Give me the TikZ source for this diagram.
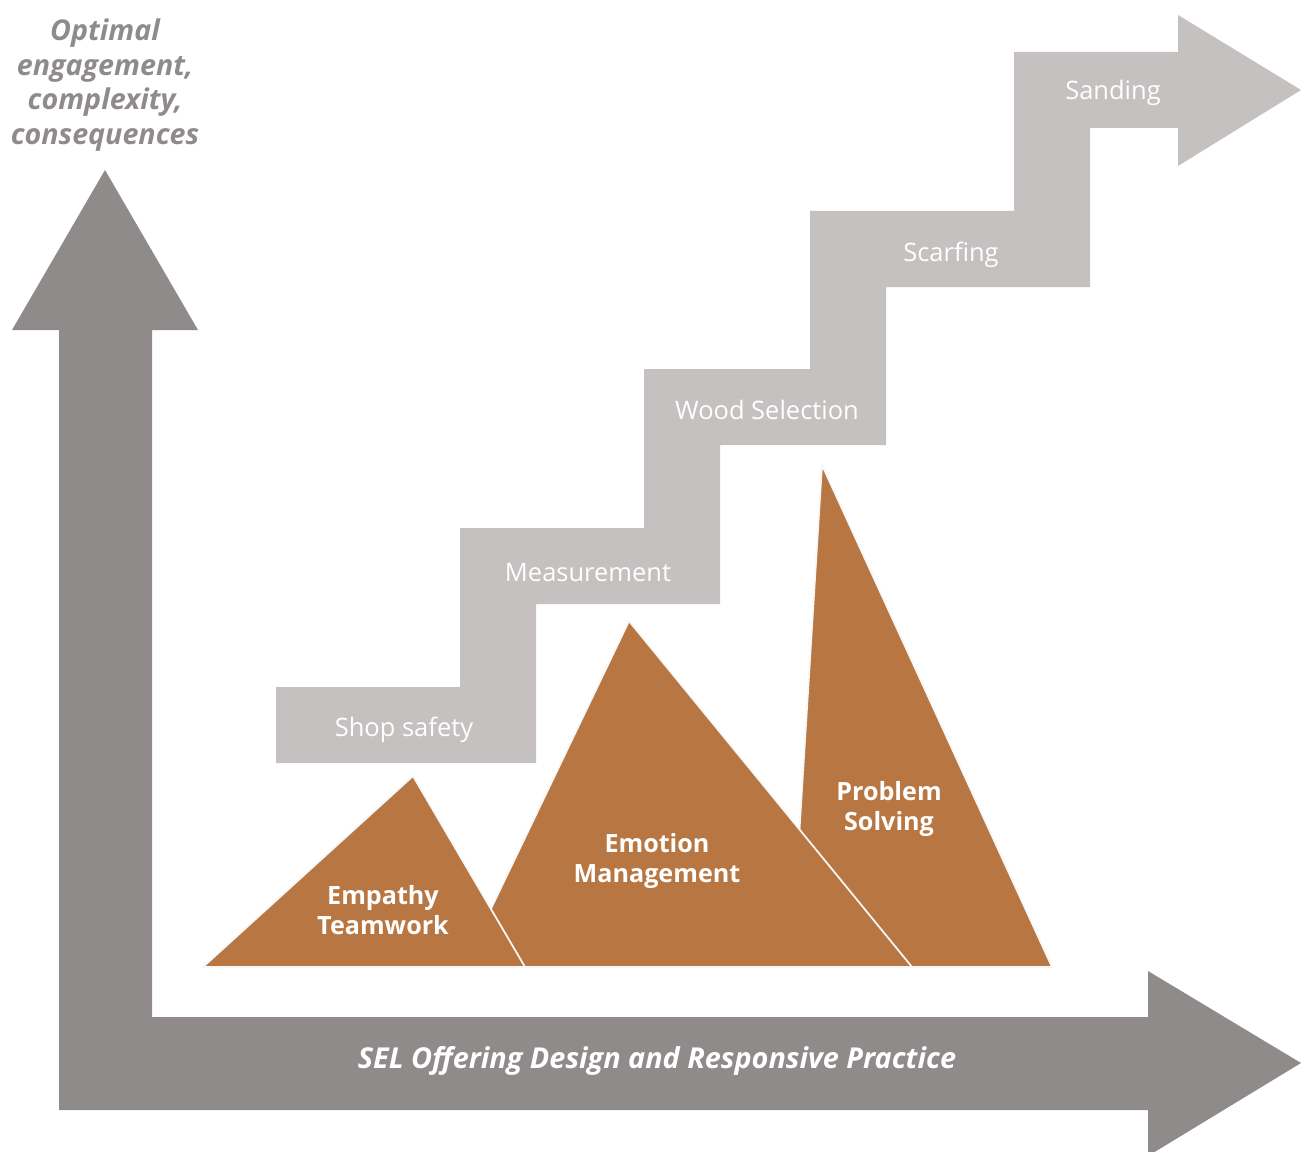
\documentclass[tikz,border=0pt]{standalone}
\usepackage{fontspec}
\setmainfont{Open Sans}
\usetikzlibrary{positioning}
\definecolor{axisgray}{HTML}{8E8B8A}
\definecolor{stairgray}{HTML}{C4C1C0}
\definecolor{peakbrown}{HTML}{B87742}

\begin{document}
\begin{tikzpicture}[x = 0.02cm, y = -0.02cm,
    stairlabel/.style = { text = white, font = \fontsize{14.5}{17}\selectfont },
    peak/.style = { fill = peakbrown, draw = white!94!gray, line width = 1pt, line join = round },
    peaklabel/.style = { text = white, align = center, font = \bfseries\fontsize{14.3}{17}\selectfont }]
    \useasboundingbox (0,0) rectangle (1301,1152);

    % axes
    \fill[axisgray] (105,170) -- (198,330) -- (152,330) -- (152,1017) -- (1148,1017) -- (1148,971)
      -- (1301,1063) -- (1148,1156) -- (1148,1110) -- (59,1110) -- (59,330) -- (12,330) -- cycle;

    % stairs
    \fill[stairgray] (276,763) -- (276,687) -- (460,687) -- (460,528) -- (644,528) -- (644,369)
      -- (810,369) -- (810,211) -- (1014,211) -- (1014,52) -- (1178,52) -- (1178,15) -- (1301,90)
      -- (1178,166) -- (1178,128) -- (1090,128) -- (1090,287) -- (886,287) -- (886,445)
      -- (720,445) -- (720,604) -- (536,604) -- (536,763) -- cycle;

    % peaks
    \draw[peak] (791,967) -- (822,465) -- (1052,967) -- cycle;
    \draw[peak] (463,967) -- (629,621) -- (912,967) -- cycle;
    \draw[peak] (203,967) -- (413,776) -- (525,967) -- cycle;

    \node[stairlabel] (shop) at (404,730) { Shop safety };
    \node[stairlabel] (measure) at (588,573) { Measurement };
    \node[stairlabel] (wood) at (767,410) { Wood Selection };
    \node[stairlabel] (scarf) at (951,255) { Scarfing };
    \node[stairlabel] (sand) at (1113,93) { Sanding };

    \node[peaklabel] (empathy) at (383,910) { Empathy \\ Teamwork };
    \node[peaklabel] (emotion) at (657,861) { Emotion \\ Management };
    \node[peaklabel] (problem) at (889,809) { Problem \\ Solving };

    \node[text = axisgray, align = center, font = \bfseries\itshape\fontsize{16.3}{19.8}\selectfont]
      (yaxis) at (105,85) { Optimal \\ engagement, \\ complexity, \\ consequences };
    \node[text = white, font = \bfseries\itshape\fontsize{16.4}{19}\selectfont]
      (xaxis) at (657,1061) { SEL Offering Design and Responsive Practice };
\end{tikzpicture}
\end{document}
